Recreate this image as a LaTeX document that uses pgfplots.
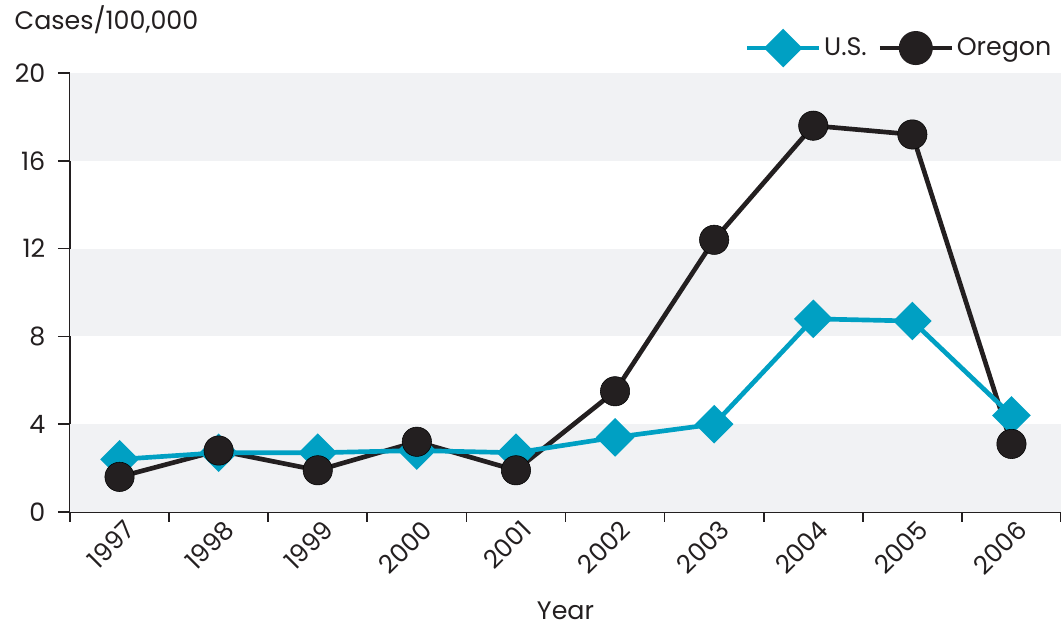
\documentclass[border=0pt]{standalone}
\usepackage{pgfplots}
\pgfplotsset{compat=1.18}
\usepackage{fontspec}
\setmainfont{Poppins}
\definecolor{teal}{HTML}{00A0C3}
\definecolor{ink}{HTML}{231F20}
\definecolor{band}{HTML}{F1F2F4}
\begin{document}
\begin{tikzpicture}[font=\fontsize{19pt}{22pt}\selectfont]
\begin{axis}[
  scale only axis,
  width=743.25pt, height=329.25pt,
  xmin=-0.5, xmax=9.5, ymin=0, ymax=20,
  axis x line*=bottom, axis y line*=left,
  axis line style={ink, line width=1.3pt},
  xtick={0,...,9},
  xticklabels={1997,1998,1999,2000,2001,2002,2003,2004,2005,2006},
  minor xtick={-0.5,0.5,...,9.5},
  major x tick style={draw=none},
  minor x tick style={ink, line width=1.3pt},
  minor tick length=7.5pt,
  ytick={0,4,...,20},
  major y tick style={ink, line width=1.3pt},
  major tick length=9pt,
  tick align=outside,
  xticklabel style={rotate=45, anchor=north east, inner sep=2pt, text=ink, xshift=7pt, yshift=3pt},
  yticklabel style={text=ink, xshift=-6pt},
  /pgf/number format/assume math mode=true,
  xlabel={Year},
  xlabel style={at={(rel axis cs:0.5,0)}, anchor=base, yshift=-81pt, text=ink},
  legend style={draw=none, fill=none, at={(rel axis cs:1,1)}, anchor=south east, xshift=-2pt, yshift=4.5pt, legend columns=2, text=ink,
    /tikz/every even column/.append style={column sep=6pt}},
  legend cell align=left,
  clip=false,
]
\fill[band] (axis cs:-0.5,0) rectangle (axis cs:9.5,4);
\fill[band] (axis cs:-0.5,8) rectangle (axis cs:9.5,12);
\fill[band] (axis cs:-0.5,16) rectangle (axis cs:9.5,20);
\coordinate (SW) at (rel axis cs:0,0);
\coordinate (NE) at (rel axis cs:1,1);

\addlegendimage{teal, line width=3.5pt, mark=square*, mark size=8.5pt, mark options={rotate=45, solid, fill=teal, draw=none},
  legend image code/.code={\draw[mark repeat=2,mark phase=2] plot coordinates {(0pt,0pt) (27pt,0pt) (54pt,0pt)};}}
\addlegendentry{U.S.}
\addlegendimage{ink, line width=3.5pt, mark=*, mark size=11pt, mark options={solid, fill=ink, draw=none},
  legend image code/.code={\draw[mark repeat=2,mark phase=2] plot coordinates {(0pt,0pt) (27pt,0pt) (54pt,0pt)};}}
\addlegendentry{Oregon}

% Oregon line
\addplot[forget plot, ink, line width=3.5pt] coordinates {
(0,1.6) (1,2.8) (2,1.9) (3,3.2) (4,1.9) (5,5.5) (6,12.4) (7,17.6) (8,17.2) (9,3.1)};
% U.S.
\addplot[forget plot, teal, line width=3.5pt, mark=square*, mark size=8.5pt, mark options={rotate=45, fill=teal, draw=none}] coordinates {
(0,2.4) (1,2.7) (2,2.7) (3,2.8) (4,2.7) (5,3.4) (6,4.0) (7,8.8) (8,8.7) (9,4.4)};
% Oregon marks
\addplot[forget plot, only marks, mark=*, mark size=11pt, mark options={fill=ink, draw=none}] coordinates {
(0,1.6) (1,2.8) (2,1.9) (3,3.2) (4,1.9) (5,5.5) (6,12.4) (7,17.6) (8,17.2) (9,3.1)};
\end{axis}
\node[anchor=base west, text=ink] at ([shift={(-45pt,32.25pt)}]SW |- NE) {Cases/100,000};
\pgfresetboundingbox
\path[use as bounding box] ([shift={(-52.5pt,-92.25pt)}]SW) rectangle ([shift={(0pt,54.75pt)}]NE);
\end{tikzpicture}
\end{document}
